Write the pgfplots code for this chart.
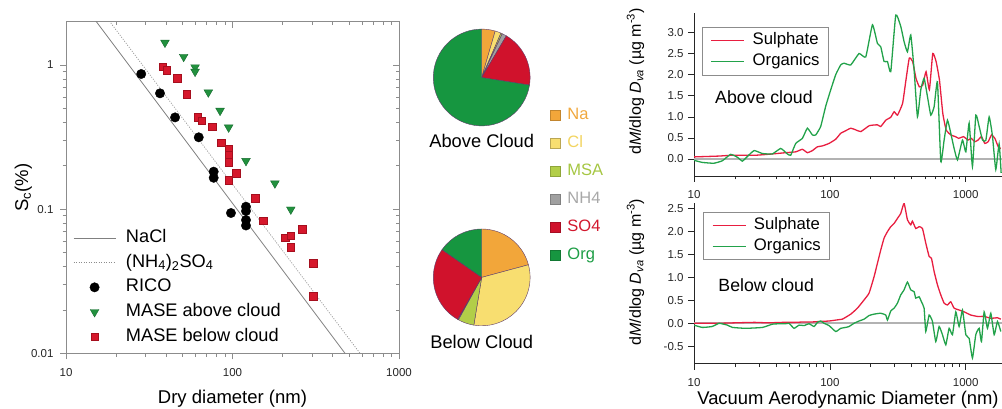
\documentclass[border=0pt]{standalone}
\usepackage{pgfplots}
\pgfplotsset{compat=1.18}
\usepackage{fontspec}
\setmainfont{Liberation Sans}

\newcommand\fs[1]{\fontsize{#1}{#1}\selectfont}

% marker and line colours
\definecolor{mgreen}{RGB}{34,145,62}
\definecolor{mgreenD}{RGB}{20,105,45}
\definecolor{mred}{RGB}{214,24,44}
\definecolor{mredD}{RGB}{165,15,30}
\definecolor{sulph}{RGB}{232,30,64}
\definecolor{orgn}{RGB}{34,162,74}
% pie colours
\definecolor{pieNa}{RGB}{242,166,58}
\definecolor{pieCl}{RGB}{248,222,112}
\definecolor{pieMSA}{RGB}{178,206,72}
\definecolor{pieNH}{RGB}{160,160,160}
\definecolor{pieSO}{RGB}{208,18,44}
\definecolor{pieOrg}{RGB}{22,150,64}
\definecolor{pieedge}{RGB}{95,60,105}
\definecolor{txtNa}{RGB}{240,168,62}
\definecolor{txtCl}{RGB}{242,212,96}
\definecolor{txtMSA}{RGB}{165,198,66}
\definecolor{txtNH}{RGB}{168,168,168}
\definecolor{txtSO}{RGB}{210,24,46}
\definecolor{txtOrg}{RGB}{30,158,70}

% pie slices: value in percent, fill colour; angles run clockwise from 12 o'clock
\newcommand\pieR{48.4pt}
\newcommand\startpie{\def\piecum{0}}
\newcommand\slice[2]{%
  \pgfmathsetmacro\pa{90-3.6*\piecum}%
  \pgfmathsetmacro\pb{90-3.6*(\piecum+#1)}%
  \edef\doslice{\noexpand\filldraw[fill=#2, draw=pieedge, line width=0.4pt, line join=round]
    (axis cs:0,0) -- ++(\pa:\pieR) arc[start angle=\pa, end angle=\pb, radius=\pieR] -- cycle;}%
  \doslice
  \pgfmathsetmacro\piecum{\piecum+#1}}

\newcommand\distylabel{d\textit{M}/dlog \textit{D}\textsubscript{\textit{va}} (µg m\textsuperscript{-3})}

\begin{document}
\begin{tikzpicture}
\useasboundingbox (0,0) rectangle (1002pt,409pt);

% ---------------- size distributions, below cloud ----------------
\begin{axis}[scale only axis, /pgf/number format/assume math mode=true,
  tick label style={font=\fs{11.5}, text=black!85},
  at={(694pt,45.4pt)}, anchor=south west, width=308pt, height=160.3pt,
  xmode=log, xmin=10, xmax=1850, ymin=-0.88, ymax=2.62, ytick={-0.5,0,...,2.5},
  log ticks with fixed point, /pgf/number format/1000 sep={},
  axis x line=bottom, axis y line=left,
  axis line style={-, black!85, line width=0.6pt},
  tick align=outside, tick style={black!85, line width=0.6pt},
  major tick length=6pt, minor tick length=3.5pt,
  xticklabel style={yshift=-5pt},
  yticklabel style={xshift=-1pt, /pgf/number format/fixed, /pgf/number format/fixed zerofill, /pgf/number format/precision=1},
  xlabel={Vacuum Aerodynamic Diameter (nm)},
  xlabel style={font=\fs{18.4}, at={(axis description cs:0.5,-0.228)}, anchor=center},
  ylabel={\distylabel}, ylabel style={font=\fs{16}, at={(axis description cs:-0.19,0.571)}, anchor=center},
  legend cell align=left,
  legend image code/.code={\draw[#1] (0pt,0pt) -- (33pt,0pt);},
  legend style={at={(axis description cs:0.03,0.9476)}, anchor=north west, draw=black!45, line width=0.6pt, fill=white,
    font=\fs{16.7}, inner xsep=8.5pt, inner ysep=5.5pt, row sep=5.5pt, column sep=7.7pt,
    nodes={inner sep=0pt, text height=12pt, text depth=3.5pt}},
]
\addplot[black!30, line width=1.6pt, forget plot] coordinates {(10,0) (1850,0)};
\addplot[sulph, line width=1.3pt, smooth, tension=0.25, forget plot] coordinates {
  (10,0.0) (15,0.0) (20,0.01) (28,0.02) (35,0.01) (45,0.02) (55,0.02) (65,0.03)
  (75,0.03) (85,0.04) (98.7,0.05) (110.5,0.07) (123.6,0.09) (127.2,0.11) (142.5,0.20)
  (159.5,0.33) (178.6,0.51) (194.4,0.66) (211.7,1.02) (223.9,1.31) (236.9,1.60)
  (250.7,1.86) (265.4,2.00) (280.8,2.11) (297.1,2.18) (314.4,2.29) (332.6,2.40)
  (351.9,2.62) (372.4,2.26) (394.0,2.15) (405.3,2.23) (429.0,2.07) (453.9,2.11)
  (480.4,2.07) (508.2,1.75) (537.9,1.46) (559.6,1.42) (585.4,1.13) (619.4,0.84)
  (655.4,0.62) (693.4,0.44) (733.7,0.40) (776.3,0.47) (821.4,0.33) (894.4,0.29)
  (973.4,0.25) (1090,0.18) (1221,0.15) (1367,0.15) (1530,0.11) (1713,0.12) (1813,0.09)};
\addplot[orgn, line width=1.3pt, smooth, tension=0.25, forget plot] coordinates {
  (10,-0.04) (11.5,-0.09) (13.6,-0.07) (15.3,0.0) (17.6,-0.04) (19.2,-0.09) (24.0,-0.11)
  (31.9,-0.09) (37.7,-0.02) (42.3,-0.01) (47.3,-0.01) (50.1,0.0) (54.5,-0.11) (59.3,-0.04)
  (64.6,-0.05) (70.3,-0.01) (76.5,-0.07) (81.0,0.02) (85.6,0.05) (90.6,0.0) (98.7,-0.05)
  (110.5,-0.18) (120.2,-0.11) (130.9,-0.09) (138.5,-0.07) (150.7,0.0) (164.1,0.05)
  (178.6,0.09) (194.4,0.17) (211.7,0.20) (236.9,0.22) (257.9,0.18) (265.4,0.07)
  (280.8,0.27) (297.1,0.33) (314.4,0.44) (332.6,0.62) (351.9,0.73) (372.4,0.90)
  (394.0,0.73) (416.9,0.69) (429.0,0.55) (453.9,0.58) (472.1,0.47) (494.0,0.33)
  (508.2,-0.18) (537.9,0.18) (569.0,0.04) (602.2,-0.40) (637.2,-0.07) (674.3,-0.25)
  (713.6,-0.47) (755.0,-0.11) (798.9,-0.25) (845.4,0.25) (894.4,-0.07) (946.4,0.29)
  (1002,-0.25) (1060,-0.33) (1121,-0.76) (1186,-0.25) (1256,-0.11) (1306,-0.40)
  (1367,0.25) (1446,-0.11) (1530,0.22) (1620,-0.25) (1713,0.04) (1813,-0.18)};
\addlegendimage{color=sulph, line width=1.2pt}
\addlegendentry{Sulphate}
\addlegendimage{color=orgn, line width=1.2pt}
\addlegendentry{Organics}
\node[anchor=base west, font=\fs{17.7}] at (rel axis cs:0.068,0.4485) {Below cloud};
\end{axis}

% ---------------- size distributions, above cloud ----------------
\begin{axis}[scale only axis, /pgf/number format/assume math mode=true,
  tick label style={font=\fs{11.5}, text=black!85},
  at={(694pt,233.1pt)}, anchor=south west, width=308pt, height=162.9pt,
  xmode=log, xmin=10, xmax=1850, ymin=-0.4, ymax=3.46, ytick={0,0.5,...,3},
  log ticks with fixed point, /pgf/number format/1000 sep={},
  axis x line=bottom, axis y line=left,
  axis line style={-, black!85, line width=0.6pt},
  tick align=outside, tick style={black!85, line width=0.6pt},
  major tick length=6pt, minor tick length=3.5pt,
  xticklabel style={yshift=-5pt},
  yticklabel style={xshift=-1pt, /pgf/number format/fixed, /pgf/number format/fixed zerofill, /pgf/number format/precision=1},
  ylabel={\distylabel}, ylabel style={font=\fs{16}, at={(axis description cs:-0.19,0.58)}, anchor=center},
  legend cell align=left,
  legend image code/.code={\draw[#1] (0pt,0pt) -- (33pt,0pt);},
  legend style={at={(axis description cs:0.026,0.914)}, anchor=north west, draw=black!45, line width=0.6pt, fill=white,
    font=\fs{16.7}, inner xsep=8.5pt, inner ysep=5.5pt, row sep=5.5pt, column sep=7.7pt,
    nodes={inner sep=0pt, text height=12pt, text depth=3.5pt}},
]
\addplot[black!30, line width=1.6pt, forget plot] coordinates {(10,0) (1850,0)};
\addplot[sulph, line width=1.3pt, smooth, tension=0.25, forget plot] coordinates {
  (10,0.05) (15.3,0.07) (19.2,0.09) (28.5,0.09) (37.7,0.12) (47.3,0.15) (56.1,0.17)
  (62.8,0.23) (68.3,0.15) (74.4,0.20) (81.0,0.29) (88.1,0.31) (98.7,0.37) (110.5,0.47)
  (120.2,0.61) (127.2,0.65) (142.5,0.73) (155.1,0.69) (169.1,0.65) (195.2,0.79)
  (223.9,0.81) (236.9,0.77) (258.0,0.92) (280.8,0.99) (297.4,1.12) (314.7,1.04)
  (343.1,1.32) (363.1,1.87) (384.3,2.39) (406.8,2.31) (430.6,1.91) (455.8,1.71)
  (482.4,1.75) (510.6,2.07) (540.4,1.64) (572.0,2.50) (605.5,2.31) (640.9,1.87)
  (678.3,1.08) (718.0,0.69) (776.5,0.57) (840.1,0.53) (888.8,0.49) (962.0,0.53)
  (1040,0.45) (1101,0.49) (1166,0.41) (1234,0.45) (1306,0.53) (1382,0.37) (1463,0.41)
  (1548,0.57) (1639,0.49) (1735,0.29) (1813,0.25)};
\addplot[orgn, line width=1.3pt, smooth, tension=0.25, forget plot] coordinates {
  (10,-0.03) (11.5,-0.08) (14.0,-0.10) (16.2,-0.04) (18.6,0.11) (20.9,0.04) (22.7,-0.05)
  (24.7,0.06) (27.7,0.20) (31.9,0.13) (37.7,0.12) (43.5,0.25) (48.7,0.12) (51.5,0.09)
  (56.1,0.37) (62.8,0.49) (68.3,0.73) (74.4,0.57) (78.7,0.57) (85.6,0.77) (93.2,1.25)
  (101.5,1.64) (110.5,2.00) (120.2,2.23) (127.2,2.27) (142.5,2.23) (164.1,2.50)
  (183.8,2.42) (205.8,3.18) (223.9,2.74) (236.9,2.66) (250.7,2.31) (265.4,2.31)
  (280.8,2.07) (305.6,3.41) (332.7,3.14) (352.0,2.78) (372.5,2.54) (394.1,2.94)
  (417.1,2.11) (441.3,1.00) (467.0,1.64) (494.0,1.91) (522.9,1.48) (553.4,1.04)
  (585.6,1.24) (619.4,1.83) (655.6,-0.06) (693.6,0.45) (733.9,0.92) (776.5,0.61)
  (821.6,0.25) (869.6,-0.02) (946.6,0.45) (1002,0.17) (1060,0.85) (1121,-0.18)
  (1187,1.04) (1256,0.77) (1329,0.45) (1406,0.44) (1488,1.00) (1573,0.55) (1665,-0.25)
  (1762,0.36) (1823,-0.33)};
\addlegendimage{color=sulph, line width=1.2pt}
\addlegendentry{Sulphate}
\addlegendimage{color=orgn, line width=1.2pt}
\addlegendentry{Organics}
\node[anchor=base west, font=\fs{17.7}] at (rel axis cs:0.0575,0.4457) {Above cloud};
\end{axis}

% ---------------- critical supersaturation vs dry diameter ----------------
\begin{axis}[scale only axis, /pgf/number format/assume math mode=true,
  tick label style={font=\fs{11.5}, text=black!85},
  at={(66pt,55.7pt)}, anchor=south west, width=333pt, height=331.7pt,
  xmode=log, ymode=log, xmin=10, xmax=1000, ymin=0.01, ymax=2,
  log ticks with fixed point, /pgf/number format/1000 sep={},
  tick align=outside, xtick pos=left, ytick pos=left,
  axis line style={black!45, line width=0.6pt},
  tick style={black!45, line width=0.6pt},
  major tick length=6pt, minor tick length=3.5pt,
  xticklabel style={yshift=-6pt}, yticklabel style={xshift=-3pt},
  xlabel={Dry diameter (nm)}, ylabel={S\textsubscript{c}(\%)},
  label style={font=\fs{18.5}},
  xlabel style={at={(axis description cs:0.5,-0.137)}, anchor=center},
  ylabel style={at={(axis description cs:-0.128,0.5)}, anchor=center},
  legend cell align=left,
  legend image code/.code={\draw[mark repeat=2, mark phase=2, #1]
    plot coordinates {(0pt,0pt) (21pt,0pt) (42pt,0pt)};},
  legend style={at={(axis description cs:0.021,0.374)}, anchor=north west,
    draw=none, fill=none, font=\fs{18.2}, inner sep=0pt, row sep=7.7pt, column sep=10pt,
    nodes={inner sep=0pt, text height=13pt, text depth=4pt}},
]
\addplot[black!50, line width=0.8pt] coordinates {(15.1,2.02) (474,0.01)};
\addlegendentry{NaCl}
\addplot[black!45, line width=0.7pt, dash pattern=on 1pt off 1.5pt] coordinates {(18.2,2.02) (583,0.01)};
\addlegendentry{(NH\textsubscript{4})\textsubscript{2}SO\textsubscript{4}}
\addplot[only marks, mark=*, mark size=4.7pt, mark options={fill=black, draw=black}] coordinates {
  (28.3,0.866) (36.7,0.636) (45.2,0.433) (62.7,0.315) (77.1,0.182) (77.1,0.165)
  (97.9,0.094) (120.5,0.104) (120.5,0.097) (120.5,0.084) (120.5,0.077)};
\addlegendentry{RICO}
\addplot[only marks, mark=triangle*, mark size=5pt,
  mark options={rotate=180, fill=mgreen, draw=mgreenD, line width=0.4pt}] coordinates {
  (39.3,1.43) (50.9,1.14) (59.6,0.964) (59.6,0.899) (71.6,0.646) (84.2,0.482)
  (94.8,0.369) (120.5,0.216) (179.8,0.151) (224,0.0995)};
\addlegendentry{MASE above cloud}
\addplot[only marks, mark=square*, mark size=3.8pt,
  mark options={fill=mred, draw=mredD, line width=0.4pt}] coordinates {
  (38.1,0.974) (40.3,0.923) (46.7,0.809) (53.1,0.626) (61.8,0.433) (65.3,0.411)
  (75.7,0.373) (85.3,0.289) (94.8,0.261) (94.8,0.237) (94.8,0.211) (105.4,0.177)
  (94.8,0.159) (137,0.119) (153,0.083) (206.5,0.0632) (224,0.0653) (224,0.0542)
  (262.4,0.0726) (305.5,0.042) (305.5,0.025)};
\addlegendentry{MASE below cloud}
\end{axis}
% mirrored ticks on the top and right edges
\begin{axis}[scale only axis,
  at={(66pt,55.7pt)}, anchor=south west, width=333pt, height=331.7pt,
  xmode=log, ymode=log, xmin=10, xmax=1000, ymin=0.01, ymax=2,
  tick align=inside, xtick pos=right, ytick pos=right,
  axis line style={draw=none}, tick style={black!45, line width=0.6pt},
  major tick length=6pt, minor tick length=3.5pt,
  xticklabels={}, yticklabels={},
]
\end{axis}

% ---------------- pie charts ----------------
\begin{axis}[at={(481.7pt,331.5pt)}, anchor=center, scale only axis, width=96.8pt, height=96.8pt,
  xmin=-1, xmax=1, ymin=-1, ymax=1, hide axis, clip=false,
  legend cell align=left,
  legend image code/.code={\draw[#1, line width=0.4pt] (0pt,-5pt) rectangle (10pt,5pt);},
  legend style={at={(axis description cs:1.204,0.197)}, anchor=north west,
    draw=none, fill=none, font=\fs{16.5}, inner sep=0pt, row sep=12pt, column sep=7pt,
    nodes={inner sep=0pt, text height=12pt, text depth=4pt}},
]
\startpie
\slice{4.5}{pieNa}
\slice{2.0}{pieCl}
\slice{0.5}{pieMSA}
\slice{1.5}{pieNH}
\slice{19.0}{pieSO}
\slice{72.5}{pieOrg}
\node[anchor=base, yshift=-22pt, font=\fs{18.3}] at (axis cs:0,-1) {Above Cloud};
\addlegendimage{fill=pieNa, draw=pieNa!80!black}
\addlegendentry{\textcolor{txtNa}{Na}}
\addlegendimage{fill=pieCl, draw=pieCl!75!black}
\addlegendentry{\textcolor{txtCl}{Cl}}
\addlegendimage{fill=pieMSA, draw=pieMSA!80!black}
\addlegendentry{\textcolor{txtMSA}{MSA}}
\addlegendimage{fill=pieNH, draw=pieNH!80!black}
\addlegendentry{\textcolor{txtNH}{NH4}}
\addlegendimage{fill=pieSO, draw=pieSO!80!black}
\addlegendentry{\textcolor{txtSO}{SO4}}
\addlegendimage{fill=pieOrg, draw=pieOrg!80!black}
\addlegendentry{\textcolor{txtOrg}{Org}}
\end{axis}

\begin{axis}[at={(481.7pt,131.6pt)}, anchor=center, scale only axis, width=96.8pt, height=96.8pt,
  xmin=-1, xmax=1, ymin=-1, ymax=1, hide axis, clip=false]
\startpie
\slice{20.8}{pieNa}
\slice{31.8}{pieCl}
\slice{5.4}{pieMSA}
\slice{0.3}{pieNH}
\slice{26.4}{pieSO}
\slice{15.3}{pieOrg}
\node[anchor=base, yshift=-22.5pt, font=\fs{18.3}] at (axis cs:0,-1) {Below Cloud};
\end{axis}
\end{tikzpicture}
\end{document}
